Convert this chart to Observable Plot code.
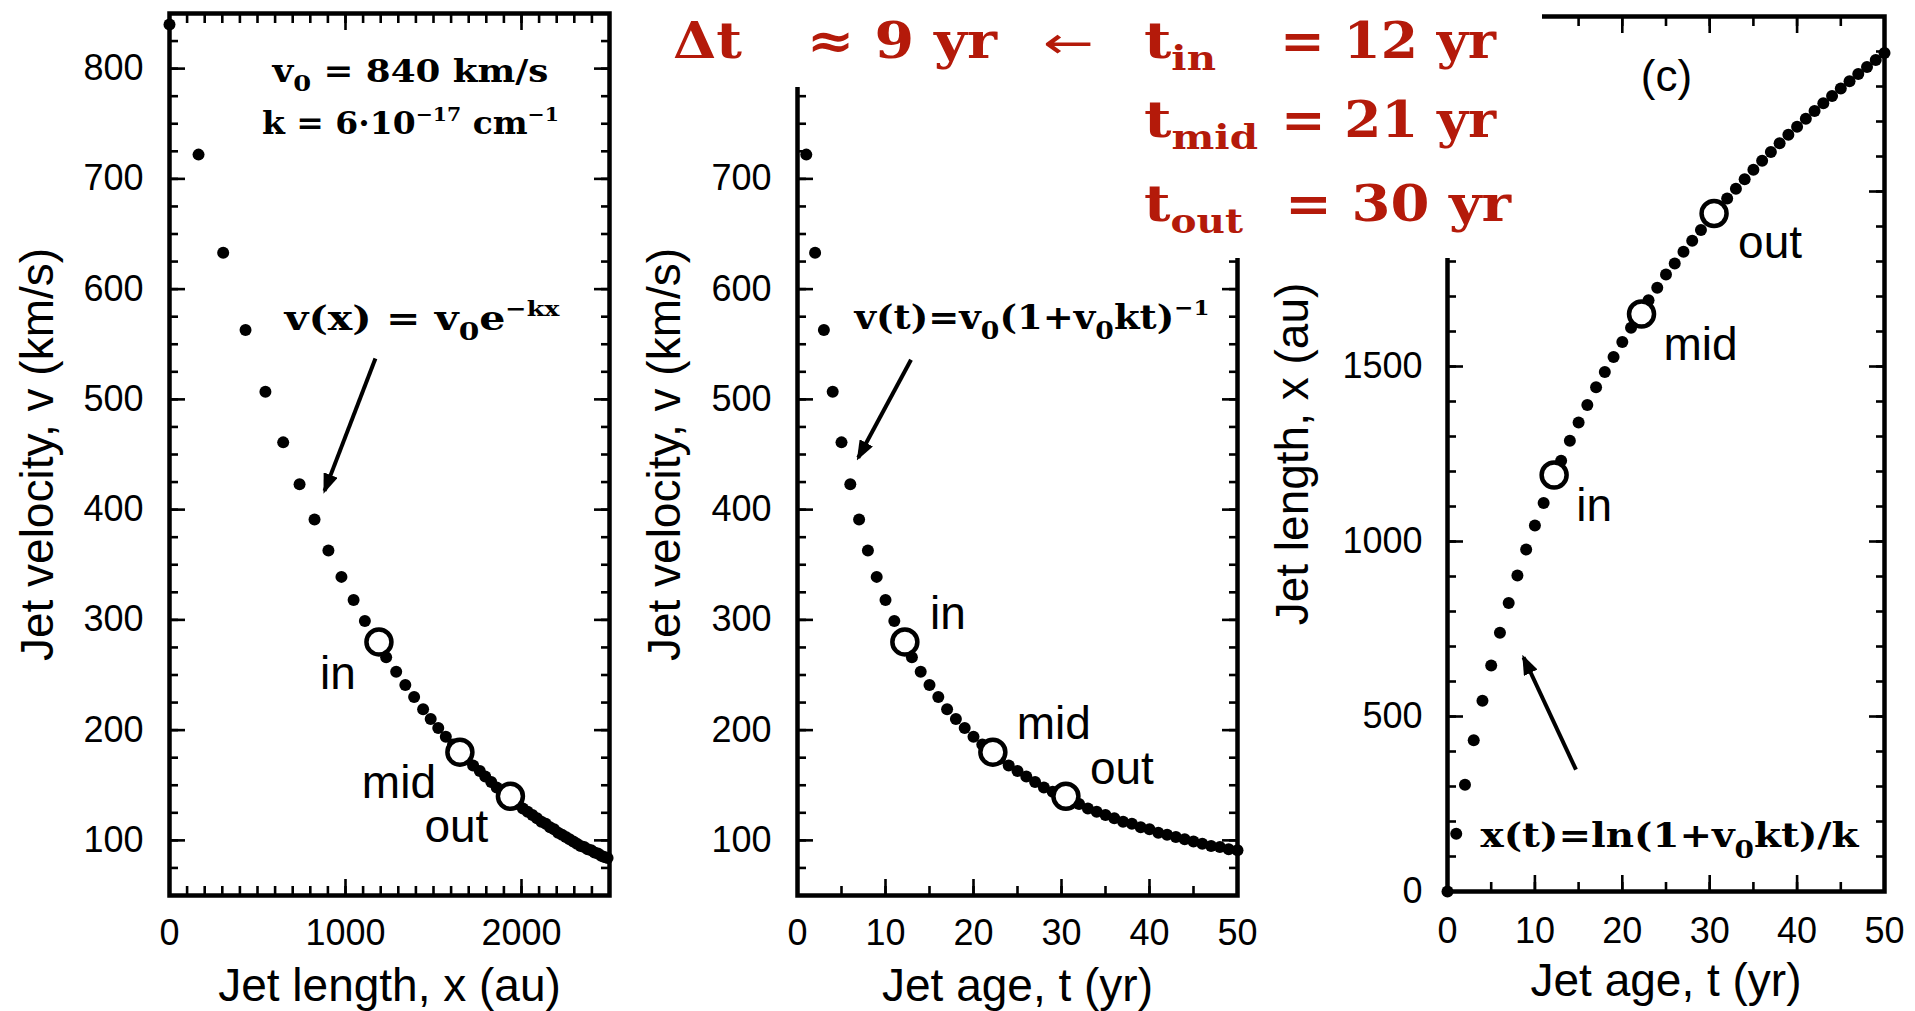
<!DOCTYPE html>
<html>
<head>
<meta charset="utf-8">
<script src="https://cdn.jsdelivr.net/npm/d3@7"></script>
<script src="https://cdn.jsdelivr.net/npm/@observablehq/plot@0.6"></script>
<style>
  html, body { margin: 0; padding: 0; background: #ffffff; }
  #figure { position: relative; width: 1915px; height: 1011px; overflow: hidden; background: #ffffff; }
  #figure > svg { position: absolute; }
</style>
</head>
<body>
<div id="figure"></div>
<script>
// ---------------- data ----------------
// jet age (yr) of each plotted point
const ageYr = [0,1,2,3,4,5,6,7,8,9,10,11,12,13,14,15,16,17,18,19,20,21,22,23,24,25,26,27,28,29,30,31,32,33,34,35,36,37,38,39,40,41,42,43,44,45,46,47,48,49,50,51,52,53,54,55];
// jet velocity (km/s)
const velocityKms = [840,722,633,563,507,461,423,391,363,339,318,299,280,266,253,241,230,219,210,202,194,187,180,174,168,163,158,153,148,144,140,136,133,129,126,123,120,117,115,112,110,107,105,103,101,99,97,95,94,92,91,89,88,86,85,84];
// jet length (au)
const lengthAu = [0,165,305,432,545,646,739,824,903,977,1046,1110,1170,1231,1288,1340,1390,1441,1484,1527,1570,1611,1651,1689,1725,1763,1794,1828,1859,1890,1921,1951,1980,2008,2035,2062,2088,2113,2138,2162,2185,2208,2230,2252,2273,2294,2315,2336,2356,2376,2396,2415,2434,2453,2471,2489];
// open-circle knots
const knotNames = ["in", "mid", "out"];
const knotAgeYr = [12.2, 22.2, 30.5];
const knotLengthAu = [1190, 1650, 1937];
const knotVelocityKms = [280, 180, 140];
// major ticks and the tick labels shown
const lengthTicks = [1000, 2000];
const lengthTickLabels = [0, 1000, 2000];
const velocityTicks = [100, 200, 300, 400, 500, 600, 700, 800];
const velocityTickLabels = [100, 200, 300, 400, 500, 600, 700, 800];
const velocityTickLabelsB = [100, 200, 300, 400, 500, 600, 700];
const ageTickLabels = [0, 10, 20, 30, 40, 50];
const lengthAxisTicks = [0, 500, 1000, 1500, 2000, 2500];
const lengthAxisTickLabels = [0, 500, 1000, 1500];

// ---------------- tables built from the arrays ----------------
const jets = ageYr.map((t, i) => ({t, v: velocityKms[i], x: lengthAu[i]}));
const knots = knotNames.map((name, i) => ({name, t: knotAgeYr[i], x: knotLengthAu[i], v: knotVelocityKms[i]}));
const jets50 = jets.filter(d => d.t <= 50);

// ---------------- styles ----------------
const SANS = "'Liberation Sans', Arial, Helvetica, sans-serif";
const SERIF = "'DejaVu Serif', 'Liberation Serif', serif";
const RED = "#b41a0a";
const TICK_W = 2.6, FRAME_W = 4.5;
const DOT_R = 6, KNOT_R = 12.5;
const TICK_FS = 36, TITLE_FS = 46, KNOT_FS = 46;

function frameTicks(xMinor, xMajor, yMinor, yMajor) {
  const base = {stroke: "black", strokeWidth: TICK_W, fill: "none", label: null};
  return [
    Plot.axisX(xMinor, {...base, anchor: "bottom", tickSize: -9}),
    Plot.axisX(xMajor, {...base, anchor: "bottom", tickSize: -16}),
    Plot.axisX(xMinor, {...base, anchor: "top", tickSize: -9}),
    Plot.axisX(xMajor, {...base, anchor: "top", tickSize: -16}),
    Plot.axisY(yMinor, {...base, anchor: "left", tickSize: -9}),
    Plot.axisY(yMajor, {...base, anchor: "left", tickSize: -16}),
    Plot.axisY(yMinor, {...base, anchor: "right", tickSize: -9}),
    Plot.axisY(yMajor, {...base, anchor: "right", tickSize: -16}),
    Plot.frame({stroke: "black", strokeWidth: FRAME_W})
  ];
}
function tickLabels(xLabels, yLabels, xPad, yPad) {
  return [
    Plot.axisX(xLabels, {anchor: "bottom", tickSize: 0, tickPadding: xPad, tickFormat: "d", fontSize: TICK_FS, label: null}),
    Plot.axisY(yLabels, {anchor: "left", tickSize: 0, tickPadding: yPad, tickFormat: "d", fontSize: TICK_FS, label: null})
  ];
}
function knotLabel(name, xKey, yKey, dx, dy) {
  return Plot.text(knots.filter(d => d.name === name), {x: xKey, y: yKey, text: "name", dx, dy, lineAnchor: "bottom", fontSize: KNOT_FS});
}
function yTitle(label, dx) {
  return Plot.text([label], {frameAnchor: "left", rotate: -90, textAnchor: "middle", lineAnchor: "middle", dx, fontSize: TITLE_FS});
}
function xTitle(label, dy) {
  return Plot.text([label], {frameAnchor: "bottom", textAnchor: "middle", lineAnchor: "bottom", dy, fontSize: TITLE_FS});
}
const noteStyle = {x: "x", y: "y", text: "label", fontFamily: SERIF, fontWeight: "bold", lineAnchor: "bottom"};
const linkStyle = {x1: "x1", y1: "y1", x2: "x2", y2: "y2", stroke: "black", strokeWidth: 4};

// annotation anchors (data coordinates of each panel)
const p1Notes = [
  {label: "v_{0} = 840 km/s", x: 1369, y: 788, w: 276},
  {label: "k = 6·10^{−17} cm^{−1}", x: 1369, y: 741, w: 297}
];
const p1Formula = [{label: "v(x) = v_{0}e^{−kx}", x: 1435, y: 563, w: 275}];
const p1Arrow = [{x1: 1170, y1: 537, x2: 881, y2: 417}];
const p2Formula = [{label: "v(t)=v_{0}(1+v_{0}kt)^{−1}", x: 26.65, y: 564, w: 355}];
const p2Arrow = [{x1: 12.9, y1: 536, x2: 6.9, y2: 447}];
const p3Formula = [{label: "x(t)=ln(1+v_{0}kt)/k", x: 25.4, y: 126, w: 378}];
const p3Arrow = [{x1: 14.7, y1: 348, x2: 8.7, y2: 669}];
const p3Tag = [{label: "(c)", x: 25.06, y: 2326}];

const textWidths = {};
[...p1Notes, ...p1Formula, ...p2Formula, ...p3Formula].forEach(d => textWidths[d.label] = d.w);

// ---------------- panel (a): v vs x ----------------
const panel1 = Plot.plot({
  width: 640, height: 1011,
  marginLeft: 169, marginRight: 31, marginTop: 13, marginBottom: 116,
  x: {domain: [0, 2500], axis: null},
  y: {domain: [50, 850], axis: null},
  style: {fontFamily: SANS, background: "transparent", overflow: "visible", color: "black"},
  marks: [
    ...frameTicks(d3.range(0, 2501, 100), lengthTicks, d3.range(50, 851, 25), velocityTicks),
    ...tickLabels(lengthTickLabels, velocityTickLabels, 24, 26),
    xTitle("Jet length, x (au)", 105),
    yTitle("Jet velocity, v (km/s)", -131),
    Plot.text(p1Notes, {...noteStyle, fontSize: 31}),
    Plot.text(p1Formula, {...noteStyle, fontSize: 34}),
    Plot.link(p1Arrow, linkStyle),
    Plot.dot(jets, {x: "x", y: "v", r: DOT_R, fill: "black"}),
    Plot.dot(knots, {x: "x", y: "v", r: KNOT_R, fill: "white", stroke: "black", strokeWidth: 4.5}),
    knotLabel("in", "x", "v", -41, 47),
    knotLabel("mid", "x", "v", -61, 46),
    knotLabel("out", "x", "v", -54, 46)
  ]
});

// ---------------- panel (b): v vs t ----------------
const panel2 = Plot.plot({
  width: 630, height: 1011,
  marginLeft: 157, marginRight: 33, marginTop: 13, marginBottom: 116,
  x: {domain: [0, 50], axis: null},
  y: {domain: [50, 850], axis: null},
  style: {fontFamily: SANS, background: "transparent", overflow: "visible", color: "black"},
  marks: [
    ...frameTicks(d3.range(0, 51, 5), ageTickLabels, d3.range(50, 851, 25), velocityTicks),
    ...tickLabels(ageTickLabels, velocityTickLabelsB, 24, 26),
    xTitle("Jet age, t (yr)", 105),
    yTitle("Jet velocity, v (km/s)", -132),
    Plot.text(p2Formula, {...noteStyle, fontSize: 34}),
    Plot.link(p2Arrow, linkStyle),
    Plot.dot(jets50, {x: "t", y: "v", r: DOT_R, fill: "black"}),
    Plot.dot(knots, {x: "t", y: "v", r: KNOT_R, fill: "white", stroke: "black", strokeWidth: 4.5}),
    knotLabel("in", "t", "v", 43, -13),
    knotLabel("mid", "t", "v", 61, -13),
    knotLabel("out", "t", "v", 56, -12)
  ]
});

// ---------------- panel (c): x vs t ----------------
const panel3 = Plot.plot({
  width: 645, height: 1011,
  marginLeft: 177, marginRight: 31, marginTop: 16, marginBottom: 120,
  x: {domain: [0, 50], axis: null},
  y: {domain: [0, 2500], axis: null},
  style: {fontFamily: SANS, background: "transparent", overflow: "visible", color: "black"},
  marks: [
    ...frameTicks(d3.range(0, 51, 5), ageTickLabels, d3.range(0, 2501, 100), lengthAxisTicks),
    ...tickLabels(ageTickLabels, lengthAxisTickLabels, 26, 25),
    xTitle("Jet age, t (yr)", 104),
    yTitle("Jet length, x (au)", -154),
    Plot.text(p3Tag, {x: "x", y: "y", text: "label", fontSize: 44}),
    Plot.text(p3Formula, {...noteStyle, fontSize: 34}),
    Plot.link(p3Arrow, linkStyle),
    Plot.dot(jets50, {x: "t", y: "x", r: DOT_R, fill: "black"}),
    Plot.dot(knots, {x: "t", y: "x", r: KNOT_R, fill: "white", stroke: "black", strokeWidth: 4.5}),
    knotLabel("in", "t", "x", 40, 46),
    knotLabel("mid", "t", "x", 59, 46),
    knotLabel("out", "t", "x", 56, 44)
  ]
});

const fig = document.getElementById("figure");
[[panel1, 0], [panel2, 640], [panel3, 1270]].forEach(([svg, left]) => {
  svg.style.left = left + "px";
  svg.style.top = "0px";
  svg.style.maxWidth = "none";
  fig.appendChild(svg);
});

// sub/superscripts for formula text
const NS = "http://www.w3.org/2000/svg";
function richify(root) {
  root.querySelectorAll("text").forEach(el => {
    const s = el.textContent;
    if (!/[_^]\{/.test(s)) return;
    const fs = parseFloat(getComputedStyle(el).fontSize);
    el.textContent = "";
    const re = /([_^])\{([^}]*)\}|([^_^]+)/g;
    let m, shift = 0;
    while ((m = re.exec(s))) {
      const ts = document.createElementNS(NS, "tspan");
      let target = 0, size = fs;
      if (m[1] === "_") { target = 0.3 * fs; size = 0.72 * fs; ts.textContent = m[2]; }
      else if (m[1] === "^") { target = -0.4 * fs; size = 0.62 * fs; ts.textContent = m[2]; }
      else ts.textContent = m[3];
      ts.setAttribute("dy", target - shift);
      shift = target;
      ts.setAttribute("font-size", size);
      el.appendChild(ts);
    }
    if (textWidths[s]) {
      el.setAttribute("textLength", textWidths[s]);
      el.setAttribute("lengthAdjust", "spacingAndGlyphs");
    }
  });
}
function arrowHeads(svg, id) {
  let defs = svg.querySelector("defs");
  if (!defs) { defs = document.createElementNS(NS, "defs"); svg.insertBefore(defs, svg.firstChild); }
  const mk = document.createElementNS(NS, "marker");
  mk.setAttribute("id", id);
  mk.setAttribute("viewBox", "0 0 20 15");
  mk.setAttribute("refX", "17"); mk.setAttribute("refY", "7.5");
  mk.setAttribute("markerWidth", "20"); mk.setAttribute("markerHeight", "15");
  mk.setAttribute("markerUnits", "userSpaceOnUse");
  mk.setAttribute("orient", "auto");
  const p = document.createElementNS(NS, "path");
  p.setAttribute("d", "M0,0L20,7.5L0,15z");
  p.setAttribute("fill", "black");
  mk.appendChild(p);
  defs.appendChild(mk);
  svg.querySelectorAll('g[aria-label="link"] path').forEach(q => q.setAttribute("marker-end", `url(#${id})`));
}
[panel1, panel2, panel3].forEach((svg, i) => { richify(svg); arrowHeads(svg, "head" + i); });

// ---------------- red timing annotation with white backing ----------------
// each piece: text, optional subscript, left x, baseline y, total width
const redPieces = [
  {t: "Δt", x: 673, y: 58, w: 69},
  {t: "≈ 9 yr", x: 807, y: 58, w: 190},
  {t: "t", sub: "in", x: 1144, y: 58, w: 72},
  {t: "= 12 yr", x: 1280, y: 58, w: 216},
  {t: "t", sub: "mid", x: 1144, y: 137, w: 114},
  {t: "= 21 yr", x: 1281, y: 137, w: 215},
  {t: "t", sub: "out", x: 1144, y: 221, w: 99},
  {t: "= 30 yr", x: 1285, y: 221, w: 226}
];
const overlay = d3.create("svg")
  .attr("width", 1915).attr("height", 1011)
  .style("left", "0px").style("top", "0px");
overlay.append("rect").attr("x", 625).attr("y", 0).attr("width", 640).attr("height", 87).attr("fill", "white");
overlay.append("rect").attr("x", 1125).attr("y", 0).attr("width", 417).attr("height", 258).attr("fill", "white");
const red = overlay.selectAll("text.red").data(redPieces).join("text")
  .attr("class", "red")
  .attr("x", d => d.x).attr("y", d => d.y)
  .attr("textLength", d => d.w).attr("lengthAdjust", "spacingAndGlyphs")
  .attr("font-family", SERIF).attr("font-weight", "bold")
  .attr("font-size", 50)
  .attr("fill", RED);
red.append("tspan").text(d => d.t);
red.filter(d => d.sub).append("tspan").attr("dy", 12).attr("font-size", 34).text(d => d.sub);
overlay.append("text")
  .attr("x", 1043).attr("y", 42)
  .attr("textLength", 51).attr("lengthAdjust", "spacingAndGlyphs")
  .attr("dominant-baseline", "central")
  .attr("font-family", "'DejaVu Sans', sans-serif").attr("font-size", 44)
  .attr("fill", RED)
  .text("←");
fig.appendChild(overlay.node());
</script>
</body>
</html>
